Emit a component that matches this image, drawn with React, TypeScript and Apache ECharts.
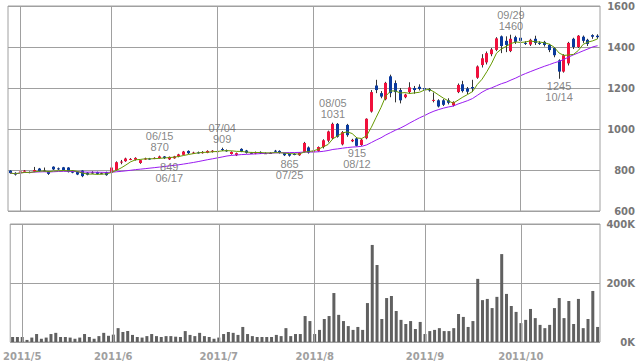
import React, { useEffect, useRef } from "react";
import * as echarts from "echarts";

// Trading days (month, days)
const tradingDays: [number, number[]][] = [
  [4, [27, 28]],
  [5, [2, 6, 9, 10, 11, 12, 13, 16, 17, 18, 19, 20, 23, 24, 25, 26, 27, 30, 31]],
  [6, [1, 2, 3, 6, 7, 8, 9, 10, 13, 14, 15, 16, 17, 20, 21, 22, 23, 24, 27, 28, 29, 30]],
  [7, [1, 4, 5, 6, 7, 8, 11, 12, 13, 14, 15, 19, 20, 21, 22, 25, 26, 27, 28, 29]],
  [8, [1, 2, 3, 4, 5, 8, 9, 10, 11, 12, 15, 16, 17, 18, 19, 22, 23, 24, 25, 26, 29, 30, 31]],
  [9, [1, 2, 5, 6, 7, 8, 9, 12, 13, 14, 15, 16, 20, 21, 22, 26, 27, 28, 29, 30]],
  [10, [3, 4, 5, 6, 7, 11, 12, 13, 14, 17, 18, 19, 20, 21, 24, 25, 26]],
];
const categories: string[] = tradingDays.flatMap(([m, days]) =>
  days.map((d) => `2011/${m}/${d}`)
);

// [open, close, low, high]
const candles: number[][] = [
  [797, 785, 782, 799], [786, 778, 773, 789], [792, 793, 788, 796], [796, 797, 792, 800],
  [790, 787, 784, 793], [792, 800, 789, 815], [807, 794, 791, 810], [797, 797, 792, 812],
  [793, 781, 776, 795], [816, 803, 800, 818], [808, 806, 800, 812], [813, 800, 797, 815],
  [812, 790, 788, 814], [797, 787, 784, 800], [790, 778, 775, 792], [797, 770, 765, 799],
  [787, 777, 774, 790], [788, 788, 782, 794], [790, 781, 778, 792], [784, 784, 780, 788],
  [790, 775, 772, 792],
  [787, 812, 785, 814], [800, 838, 797, 842], [840, 841, 828, 849], [843, 856, 840, 860],
  [852, 854, 848, 858], [850, 859, 846, 862], [834, 848, 830, 850], [855, 856, 850, 860],
  [856, 855, 850, 859], [858, 859, 853, 862], [858, 866, 855, 870], [866, 858, 854, 868],
  [852, 864, 849, 866], [857, 866, 855, 869], [866, 876, 862, 879], [874, 890, 872, 893],
  [893, 882, 878, 896], [884, 885, 879, 889], [886, 885, 880, 890], [882, 888, 880, 892],
  [884, 893, 882, 896], [888, 894, 885, 897],
  [888, 892, 884, 896], [902, 899, 893, 909], [896, 894, 889, 900], [878, 888, 875, 891],
  [872, 882, 868, 885], [903, 890, 887, 906], [895, 884, 880, 898], [884, 884, 880, 888],
  [880, 887, 877, 890], [888, 881, 878, 891], [882, 882, 878, 886], [883, 883, 879, 887],
  [894, 891, 887, 898], [893, 884, 880, 896], [882, 872, 868, 884], [878, 870, 865, 881],
  [878, 877, 872, 882], [872, 885, 869, 887], [888, 932, 885, 937], [910, 885, 880, 915],
  [888, 892, 882, 896], [893, 912, 889, 915], [912, 945, 905, 950], [943, 988, 935, 992],
  [955, 1025, 950, 1031], [1025, 962, 958, 1029], [925, 985, 920, 990], [1020, 970, 962, 1025],
  [940, 947, 936, 952], [954, 918, 915, 960], [922, 948, 918, 952], [955, 1050, 950, 1052],
  [1085, 1180, 1080, 1190], [1212, 1190, 1175, 1240], [1175, 1158, 1150, 1185], [1145, 1225, 1140, 1230],
  [1257, 1175, 1155, 1265], [1224, 1180, 1130, 1237], [1190, 1140, 1125, 1200], [1155, 1168, 1150, 1172],
  [1180, 1203, 1172, 1228], [1200, 1190, 1172, 1210], [1206, 1195, 1188, 1218],
  [1200, 1192, 1185, 1205], [1195, 1188, 1182, 1200], [1138, 1142, 1130, 1178], [1140, 1110, 1105, 1145],
  [1140, 1118, 1112, 1146], [1140, 1128, 1120, 1150], [1115, 1132, 1110, 1135], [1180, 1215, 1175, 1222],
  [1218, 1185, 1178, 1235], [1198, 1182, 1170, 1205], [1205, 1198, 1180, 1240], [1250, 1305, 1245, 1310],
  [1312, 1345, 1300, 1365], [1325, 1370, 1315, 1378], [1365, 1388, 1355, 1395], [1386, 1442, 1380, 1448],
  [1452, 1405, 1370, 1456], [1430, 1410, 1375, 1452], [1380, 1440, 1375, 1460], [1448, 1425, 1415, 1455],
  [1445, 1430, 1420, 1452], [1420, 1418, 1410, 1428], [1412, 1435, 1405, 1440], [1440, 1420, 1410, 1455],
  [1420, 1418, 1410, 1428], [1425, 1410, 1402, 1430], [1410, 1385, 1375, 1415], [1395, 1360, 1350, 1400],
  [1335, 1280, 1245, 1340], [1280, 1360, 1275, 1365], [1320, 1420, 1310, 1425], [1440, 1400, 1390, 1445],
  [1400, 1455, 1395, 1458], [1450, 1430, 1420, 1456], [1435, 1415, 1405, 1440], [1458, 1450, 1440, 1462],
  [1455, 1448, 1440, 1462],
];

// volume in thousands
const volumeK: number[] = [
  17, 17, 17, 7, 15, 27, 11, 15, 27, 31, 17, 17, 15, 11, 15, 27, 17, 11, 20, 31, 21,
  25, 47, 34, 37, 24, 17, 15, 20, 27, 20, 17, 20, 20, 18, 17, 37, 24, 20, 31, 20, 17, 11,
  15, 27, 34, 31, 24, 51, 27, 20, 17, 17, 17, 17, 24, 20, 47, 20, 27, 27, 88, 71,
  27, 41, 78, 88, 166, 92, 71, 54, 41, 51, 41, 132, 329, 261, 78, 149, 156, 105, 75, 61, 71, 44, 68,
  27, 37, 41, 47, 37, 37, 47, 95, 85, 51, 71, 214, 142, 146, 115, 153, 298, 163, 122, 102,
  64, 75, 112, 81, 58, 47, 58, 115, 149, 81, 139, 61, 146, 47, 78, 173, 51,
];

const highMarks = [
  { idx: 31, date: "06/15", value: 870 },
  { idx: 44, date: "07/04", value: 909 },
  { idx: 67, date: "08/05", value: 1031 },
  { idx: 104, date: "09/29", value: 1460 },
];
const lowMarks = [
  { idx: 33, date: "06/17", value: 849 },
  { idx: 58, date: "07/25", value: 865 },
  { idx: 72, date: "08/12", value: 915 },
  { idx: 114, date: "10/14", value: 1245 },
];

const priceTicks = { min: 600, max: 1600, interval: 200 };
const volumeTicks = { min: 0, max: 400000, interval: 200000 };

const RED = "#f0103c";
const BLUE = "#0a3a9e";
const WICK = "#333333";
const GRID = "#a0a0a0";

function movingAverage(values: number[], n: number): number[] {
  return values.map((_, i) => {
    const s = Math.max(0, i - n + 1);
    const win = values.slice(s, i + 1);
    return Math.round((win.reduce((a, b) => a + b, 0) / win.length) * 10) / 10;
  });
}

export default function App() {
  const ref = useRef<HTMLDivElement>(null);
  useEffect(() => {
    document.body.style.margin = "0";
    if (!ref.current) return;
    const chart = echarts.init(ref.current, null, { renderer: "svg" });
    const closes = candles.map((c) => c[1]);
    const ma5 = movingAverage(closes, 5);
    const ma25 = movingAverage(closes, 25);
    const monthStarts = categories
      .map((c, i) => (i > 0 && c.split("/")[1] !== categories[i - 1].split("/")[1] ? i : -1))
      .filter((i) => i > 0);
    const monthLines = monthStarts.map((i) => ({ xAxis: i }));
    const axisLabelFont = {
      fontFamily: "DejaVu Sans",
      fontWeight: "bold" as const,
      fontSize: 10,
    };
    const annFont = {
      fontFamily: "Liberation Sans",
      fontSize: 11,
      lineHeight: 11,
      color: "#666",
    };
    const markLineStyle = {
      silent: true,
      symbol: ["none", "none"],
      label: { show: false },
      lineStyle: { color: GRID, type: "solid", width: 1 },
      emphasis: { disabled: true },
    };

    chart.setOption({
      animation: false,
      backgroundColor: "#fff",
      grid: [
        { left: 8, right: 38, top: 6, height: 205, show: true, borderColor: GRID, borderWidth: 1 },
        { left: 8, right: 38, top: 224, height: 118, show: true, borderColor: GRID, borderWidth: 1 },
      ],
      xAxis: [
        {
          type: "category",
          data: categories,
          gridIndex: 0,
          boundaryGap: true,
          axisLine: { show: false },
          axisTick: { show: false },
          axisLabel: { show: false },
          splitLine: { show: false },
        },
        {
          type: "category",
          data: categories,
          gridIndex: 1,
          boundaryGap: true,
          axisLine: { show: false },
          axisTick: { show: false },
          splitLine: { show: false },
          axisLabel: {
            ...axisLabelFont,
            color: "#a0a0a0",
            margin: 9,
            interval: (index: number) => monthStarts.includes(index),
            formatter: (v: string) => {
              const p = v.split("/");
              return `${p[0]}/${p[1]}`;
            },
          },
        },
      ],
      yAxis: [
        {
          type: "value",
          gridIndex: 0,
          position: "right",
          ...priceTicks,
          axisLine: { show: false },
          axisTick: { show: false },
          splitLine: { show: true, lineStyle: { color: GRID, width: 1 } },
          axisLabel: {
            ...axisLabelFont,
            color: "#777",
            align: "right",
            margin: 35,
            formatter: (v: number) => String(v),
          },
        },
        {
          type: "value",
          gridIndex: 1,
          position: "right",
          ...volumeTicks,
          axisLine: { show: false },
          axisTick: { show: false },
          splitLine: { show: true, lineStyle: { color: GRID, width: 1 } },
          axisLabel: {
            ...axisLabelFont,
            color: "#777",
            align: "right",
            margin: 35,
            formatter: (v: number) => `${v / 1000}K`,
          },
        },
      ],
      series: [
        {
          type: "line",
          xAxisIndex: 0,
          yAxisIndex: 0,
          data: [],
          z: 1,
          markLine: { ...markLineStyle, data: monthLines },
        },
        {
          type: "line",
          xAxisIndex: 1,
          yAxisIndex: 1,
          data: [],
          z: 1,
          markLine: { ...markLineStyle, data: monthLines },
        },
        {
          type: "custom",
          xAxisIndex: 0,
          yAxisIndex: 0,
          z: 3,
          data: candles.map((c, i) => [i, c[0], c[1], c[2], c[3]]),
          encode: { x: 0, y: [1, 2, 3, 4] },
          renderItem: (params: any, api: any) => {
            const i = api.value(0);
            const o = api.value(1);
            const c = api.value(2);
            const l = api.value(3);
            const h = api.value(4);
            const pO = api.coord([i, o]);
            const pC = api.coord([i, c]);
            const pL = api.coord([i, l]);
            const pH = api.coord([i, h]);
            const x = Math.floor(pO[0]);
            const top = Math.min(pO[1], pC[1]);
            const bot = Math.max(pO[1], pC[1]);
            const color = c > o ? RED : c < o ? BLUE : WICK;
            return {
              type: "group",
              children: [
                {
                  type: "line",
                  shape: { x1: x + 0.5, y1: pH[1], x2: x + 0.5, y2: pL[1] },
                  style: { stroke: WICK, lineWidth: 1 },
                },
                {
                  type: "rect",
                  shape: { x: x - 1, y: top, width: 3, height: Math.max(bot - top, 1) },
                  style: { fill: color },
                },
              ],
            };
          },
        },
        {
          type: "line",
          xAxisIndex: 0,
          yAxisIndex: 0,
          data: ma25,
          symbol: "none",
          z: 4,
          lineStyle: { color: "#9a1cf0", width: 1 },
        },
        {
          type: "line",
          xAxisIndex: 0,
          yAxisIndex: 0,
          data: ma5,
          symbol: "none",
          z: 4,
          lineStyle: { color: "#669900", width: 1 },
        },
        {
          type: "scatter",
          xAxisIndex: 0,
          yAxisIndex: 0,
          z: 6,
          symbolSize: 1,
          itemStyle: { color: "rgba(0,0,0,0)" },
          data: highMarks.map((m) => ({ value: [m.idx, m.value], name: m.date })),
          label: {
            show: true,
            position: "top",
            distance: 3,
            ...annFont,
            formatter: (p: any) => `${p.name}\n${p.value[1]}`,
          },
        },
        {
          type: "scatter",
          xAxisIndex: 0,
          yAxisIndex: 0,
          z: 6,
          symbolSize: 1,
          itemStyle: { color: "rgba(0,0,0,0)" },
          data: lowMarks.map((m) => ({ value: [m.idx, m.value], name: m.date })),
          label: {
            show: true,
            position: "bottom",
            distance: 1,
            ...annFont,
            formatter: (p: any) => `${p.value[1]}\n${p.name}`,
          },
        },
        {
          type: "bar",
          xAxisIndex: 1,
          yAxisIndex: 1,
          z: 2,
          barWidth: 3,
          data: volumeK.map((v) => v * 1000),
          itemStyle: { color: "#606060" },
        },
      ],
    });
    return () => chart.dispose();
  }, []);
  return <div ref={ref} style={{ width: 638, height: 362 }} />;
}
